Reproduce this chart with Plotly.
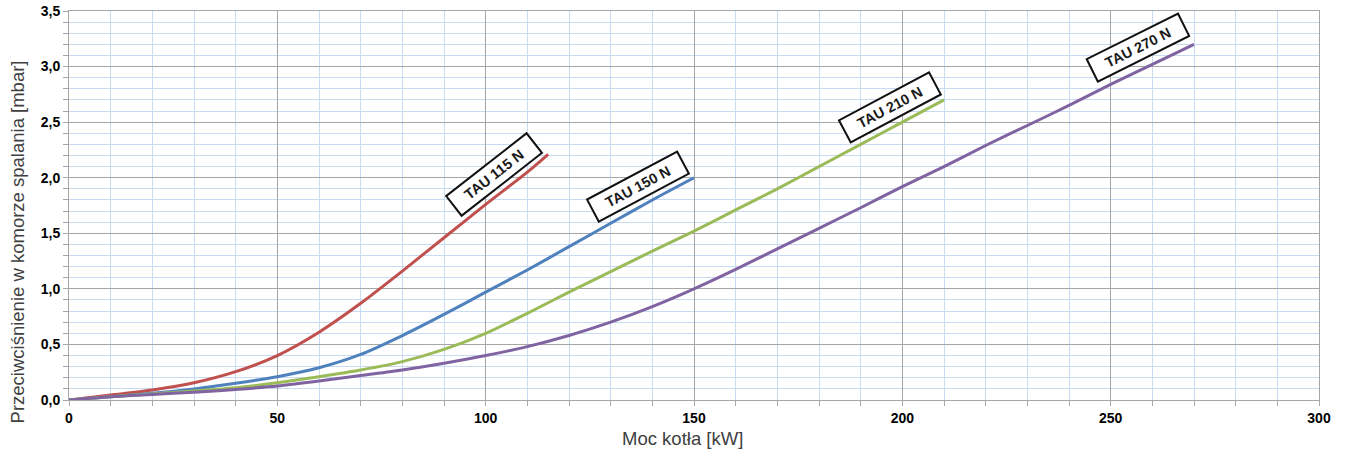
import plotly.graph_objects as go

x115 = [0, 10, 20, 30, 40, 50, 60, 70, 80, 90, 100, 110, 115]
y115 = [0.0, 0.045, 0.09, 0.155, 0.255, 0.40, 0.61, 0.87, 1.16, 1.46, 1.76, 2.05, 2.21]

x150 = [0, 10, 20, 30, 40, 50, 60, 70, 80, 90, 100, 110, 120, 130, 140, 150]
y150 = [0.0, 0.03, 0.06, 0.10, 0.15, 0.21, 0.29, 0.41, 0.58, 0.77, 0.97, 1.17, 1.38, 1.59, 1.80, 2.0]

x210 = [0, 10, 20, 30, 40, 50, 60, 70, 80, 90, 100, 110, 120, 130, 140, 150, 160, 170, 180, 190, 200, 210]
y210 = [0.0, 0.03, 0.055, 0.08, 0.11, 0.155, 0.21, 0.27, 0.345, 0.455, 0.60, 0.78, 0.97, 1.155, 1.34, 1.52, 1.71, 1.90, 2.10, 2.30, 2.50, 2.7]

x270 = [0, 10, 20, 30, 40, 50, 60, 70, 80, 90, 100, 110, 120, 130, 140, 150, 160, 170, 180, 190, 200, 210, 220, 230, 240, 250, 260, 270]
y270 = [0.0, 0.03, 0.05, 0.07, 0.095, 0.125, 0.17, 0.22, 0.27, 0.33, 0.40, 0.48, 0.58, 0.70, 0.84, 1.00, 1.175, 1.36, 1.545, 1.73, 1.92, 2.10, 2.29, 2.47, 2.65, 2.84, 3.02, 3.2]

x_title = "Moc kotła [kW]"
y_title = "Przeciwciśnienie w komorze spalania [mbar]"

series = [
    ("TAU 115 N", x115, y115, "#c0504d"),
    ("TAU 150 N", x150, y150, "#4f81bd"),
    ("TAU 210 N", x210, y210, "#9bbb59"),
    ("TAU 270 N", x270, y270, "#8064a2"),
]

label_text = ["TAU 115 N", "TAU 150 N", "TAU 210 N", "TAU 270 N"]
label_x = [102, 136.6, 197, 256.6]
label_y = [2.03, 1.92, 2.63, 3.17]
label_angle = [-38, -28, -28, -26.5]

fig = go.Figure()
for name, xs, ys, c in series:
    fig.add_trace(go.Scatter(x=xs, y=ys, mode="lines", name=name,
                             line=dict(color=c, width=3, shape="spline", smoothing=0.7)))

for t, ax_, ay_, ang in zip(label_text, label_x, label_y, label_angle):
    fig.add_annotation(x=ax_, y=ay_, text="<b>" + t + "</b>", showarrow=False,
                       textangle=ang, bordercolor="#111111", borderwidth=2,
                       bgcolor="white", borderpad=3, width=94, height=17,
                       font=dict(family="Liberation Sans", size=14.5, color="#1a1a1a"))

# axis titles placed as annotations to match reference positions
fig.add_annotation(xref="paper", yref="paper", x=0.491, y=-0.0977, text=x_title,
                   showarrow=False, xanchor="center", yanchor="middle",
                   font=dict(family="Liberation Sans", size=18.5, color="#404040"))
fig.add_annotation(xref="paper", yref="paper", x=-0.0416, y=0.405, text=y_title,
                   showarrow=False, xanchor="center", yanchor="middle", textangle=-90,
                   font=dict(family="Liberation Sans", size=18.5, color="#404040"))

grid_major = "#a6a6a6"
grid_minor = "#c9dbf2"

fig.update_layout(
    width=1348, height=453,
    margin=dict(l=69, r=29, t=11, b=53),
    plot_bgcolor="white", paper_bgcolor="white",
    showlegend=False,
    separators=", ",
    font=dict(family="Liberation Sans", color="#404040"),
)
fig.update_xaxes(
    range=[0, 300], dtick=50, tick0=0, automargin=False,
    showgrid=True, gridcolor=grid_major, gridwidth=1,
    showline=True, linecolor=grid_major, linewidth=1, mirror=True,
    ticks="outside", ticklen=5, tickcolor=grid_major,
    tickfont=dict(family="Liberation Sans", size=14, color="black", weight="bold"),
    minor=dict(dtick=10, showgrid=True, gridcolor=grid_minor, gridwidth=1,
               ticks="outside", ticklen=5, tickcolor=grid_major),
    zeroline=False,
)
fig.update_yaxes(
    range=[0, 3.5], dtick=0.5, tick0=0, tickformat=".1f", automargin=False,
    showgrid=True, gridcolor=grid_major, gridwidth=1,
    showline=True, linecolor=grid_major, linewidth=1, mirror=True,
    ticks="outside", ticklen=5, tickcolor=grid_major,
    tickfont=dict(family="Liberation Sans", size=14, color="black", weight="bold"),
    minor=dict(dtick=0.1, showgrid=True, gridcolor=grid_minor, gridwidth=1,
               ticks="outside", ticklen=5, tickcolor=grid_major),
    zeroline=False,
)

fig.write_html("out.html")
